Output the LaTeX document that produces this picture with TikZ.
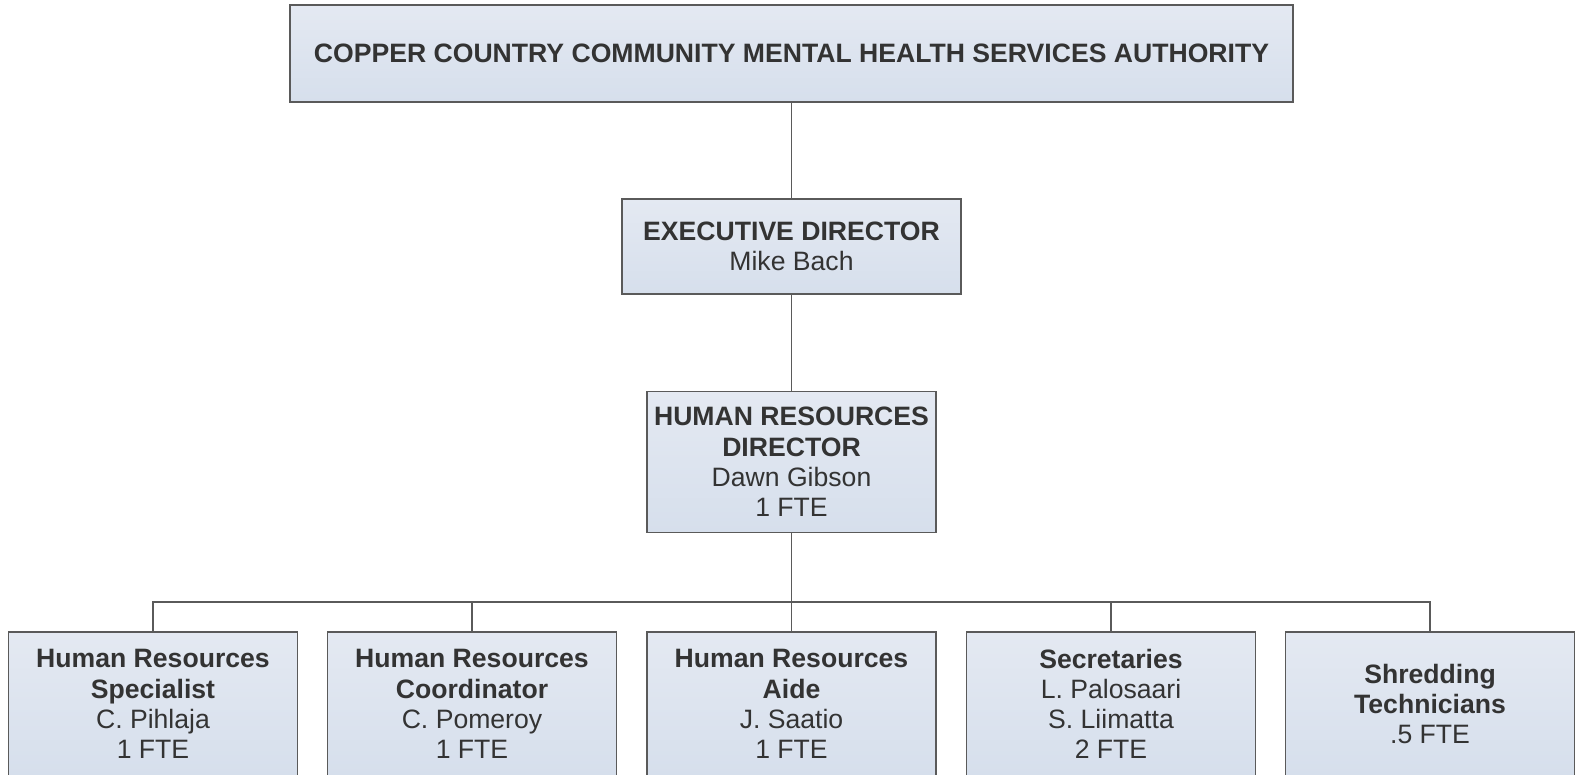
\documentclass[tikz,border=0pt]{standalone}
\usepackage{fontspec}
\setmainfont{Liberation Sans}
\usepackage{tikz}
\definecolor{boxtop}{HTML}{E4E9F2}
\definecolor{boxbot}{HTML}{D6DFEC}
\definecolor{boxline}{HTML}{5A5A5A}
\definecolor{txt}{HTML}{333333}
\begin{document}
\begin{tikzpicture}[x=0.5pt, y=-0.5pt,
  orgbox/.style={draw=boxline, line width=0.9pt, top color=boxtop, bottom color=boxbot,
    align=center, inner sep=0pt, text=txt, font=\fontsize{13.3}{15.1}\selectfont},
  conn/.style={draw=boxline, line width=0.8pt}]

% picture frame, the lowest row runs off the bottom edge
\clip (0,0) rectangle (1578,775);

% First, define nodes
\node[orgbox, minimum width=501.5pt, minimum height=48.5pt] (board) at (791.5,53.5)
  {\bfseries COPPER COUNTRY COMMUNITY MENTAL HEALTH SERVICES AUTHORITY};
\node[orgbox, minimum width=169.5pt, minimum height=47.5pt] (exec) at (791.5,246.5)
  {\textbf{EXECUTIVE DIRECTOR}\\Mike Bach};
\node[orgbox, minimum width=144.5pt, minimum height=70.5pt] (hrdir) at (791.5,462)
  {\textbf{HUMAN RESOURCES}\\\textbf{DIRECTOR}\\Dawn Gibson\\1 FTE};

% bottom row
\node[orgbox, minimum width=144.5pt, minimum height=72pt] (spec) at (153,704)
  {\textbf{Human Resources}\\\textbf{Specialist}\\C. Pihlaja\\1 FTE};
\node[orgbox, minimum width=144.5pt, minimum height=72pt] (coord) at (472,704)
  {\textbf{Human Resources}\\\textbf{Coordinator}\\C. Pomeroy\\1 FTE};
\node[orgbox, minimum width=144.5pt, minimum height=72pt] (aide) at (791.5,704)
  {\textbf{Human Resources}\\\textbf{Aide}\\J. Saatio\\1 FTE};
\node[orgbox, minimum width=144.5pt, minimum height=72pt] (secr) at (1111,704)
  {\textbf{Secretaries}\\L. Palosaari\\S. Liimatta\\2 FTE};
\node[orgbox, minimum width=144.5pt, minimum height=72pt] (shred) at (1430,704)
  {\textbf{Shredding}\\\textbf{Technicians}\\.5 FTE};

% Now the connectors
\draw[conn] (board.south) -- (exec.north);
\draw[conn] (exec.south) -- (hrdir.north);
\coordinate (bus) at (791.5,602);
\draw[conn] (hrdir.south) -- (aide.north);
\foreach \n in {spec,coord,secr,shred} {
  \draw[conn] (bus) -| (\n.north);
}
\end{tikzpicture}
\end{document}
